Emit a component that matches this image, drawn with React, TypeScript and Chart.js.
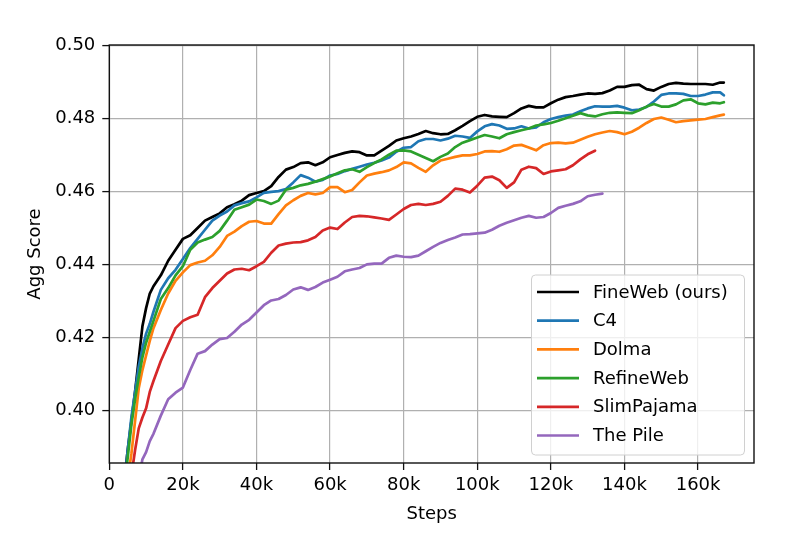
import React, { useEffect, useRef } from 'react';
import { Chart, registerables } from 'chart.js';
Chart.register(...registerables);

// Training steps, in thousands
const steps = [3, 4, 5, 6, 7, 8, 9, 10, 11, 12, 14, 16, 18, 20, 22, 24, 26, 28, 30, 32, 34, 36, 38, 40, 42, 44, 46, 48, 50, 52, 54, 56, 58, 60, 62, 64, 66, 68, 70, 72, 74, 76, 78, 80, 82, 84, 86, 88, 90, 92, 94, 96, 98, 100, 102, 104, 106, 108, 110, 112, 114, 116, 118, 120, 122, 124, 126, 128, 130, 132, 134, 136, 138, 140, 142, 144, 146, 148, 150, 152, 154, 156, 158, 160, 162, 164, 166, 167];

const fineweb = [0.370, 0.380, 0.389, 0.397, 0.405, 0.414, 0.423, 0.428, 0.432, 0.434, 0.437, 0.441, 0.444, 0.447, 0.448, 0.450, 0.452, 0.453, 0.454, 0.4557, 0.4565, 0.4575, 0.459, 0.4596, 0.4601, 0.4615, 0.464, 0.466, 0.4667, 0.4678, 0.468, 0.4672, 0.468, 0.4694, 0.470, 0.4706, 0.471, 0.4708, 0.4699, 0.4699, 0.4712, 0.4725, 0.474, 0.4746, 0.4751, 0.4758, 0.4766, 0.476, 0.4757, 0.4758, 0.4768, 0.478, 0.4793, 0.4805, 0.481, 0.4806, 0.4805, 0.4804, 0.4815, 0.4828, 0.4835, 0.4831, 0.4831, 0.4842, 0.4852, 0.4859, 0.4862, 0.4866, 0.4869, 0.4868, 0.487, 0.4877, 0.4887, 0.4887, 0.4892, 0.4893, 0.4881, 0.4877, 0.4887, 0.4895, 0.4898, 0.4896, 0.4895, 0.4895, 0.4895, 0.4893, 0.4899, 0.4899];

const c4 = [0.370, 0.379, 0.389, 0.398, 0.405, 0.412, 0.417, 0.421, 0.4237, 0.427, 0.433, 0.4362, 0.4385, 0.4415, 0.4445, 0.447, 0.4495, 0.452, 0.4534, 0.4545, 0.4562, 0.4568, 0.4573, 0.4584, 0.4596, 0.4599, 0.4601, 0.4607, 0.4625, 0.4645, 0.4638, 0.4627, 0.4632, 0.4644, 0.4648, 0.4656, 0.4662, 0.4668, 0.4674, 0.4679, 0.4685, 0.4693, 0.4709, 0.472, 0.4722, 0.4738, 0.4744, 0.4744, 0.474, 0.4745, 0.4753, 0.4751, 0.4747, 0.4765, 0.4779, 0.4785, 0.4781, 0.4772, 0.4773, 0.4779, 0.4773, 0.4776, 0.479, 0.4799, 0.4804, 0.4808, 0.4811, 0.482, 0.4828, 0.4834, 0.4833, 0.4833, 0.4835, 0.483, 0.4823, 0.4825, 0.4832, 0.4847, 0.4865, 0.4869, 0.4869, 0.4868, 0.4862, 0.4862, 0.4866, 0.4872, 0.4872, 0.4864];

const dolma = [0.360, 0.371, 0.381, 0.388, 0.397, 0.406, 0.411, 0.415, 0.419, 0.4225, 0.4275, 0.432, 0.4355, 0.4378, 0.4398, 0.4405, 0.441, 0.4425, 0.4448, 0.4478, 0.449, 0.4505, 0.4517, 0.4519, 0.4512, 0.4512, 0.4538, 0.4562, 0.4576, 0.4588, 0.4596, 0.4592, 0.4596, 0.4612, 0.4612, 0.4598, 0.4604, 0.4625, 0.4644, 0.4649, 0.4653, 0.4658, 0.4667, 0.468, 0.4677, 0.4665, 0.4654, 0.4672, 0.4685, 0.469, 0.4695, 0.4699, 0.4699, 0.4703, 0.471, 0.4711, 0.4709, 0.4716, 0.4726, 0.4728, 0.4721, 0.4713, 0.4727, 0.4733, 0.4734, 0.4732, 0.4734, 0.4742, 0.475, 0.4757, 0.4762, 0.4766, 0.4763, 0.4757, 0.4764, 0.4775, 0.4788, 0.4799, 0.4803, 0.4797, 0.479, 0.4793, 0.4795, 0.4797, 0.4799, 0.4804, 0.4809, 0.4811];

const refineweb = [0.368, 0.378, 0.387, 0.396, 0.403, 0.409, 0.4145, 0.4185, 0.4215, 0.4245, 0.4305, 0.4335, 0.437, 0.4395, 0.444, 0.446, 0.4468, 0.4475, 0.4492, 0.452, 0.455, 0.4557, 0.4564, 0.4578, 0.4574, 0.4566, 0.4575, 0.4605, 0.461, 0.4617, 0.4621, 0.4627, 0.4634, 0.4641, 0.465, 0.4658, 0.4661, 0.4654, 0.4667, 0.4678, 0.4688, 0.4701, 0.4712, 0.4713, 0.471, 0.4701, 0.4692, 0.4683, 0.4695, 0.4704, 0.4722, 0.4734, 0.4741, 0.4748, 0.4755, 0.4751, 0.4746, 0.4757, 0.4763, 0.4768, 0.4773, 0.4781, 0.4784, 0.4788, 0.4794, 0.4801, 0.4808, 0.4815, 0.4809, 0.4806, 0.4812, 0.4816, 0.4817, 0.4816, 0.4815, 0.4823, 0.4833, 0.484, 0.4833, 0.4833, 0.4839, 0.485, 0.4853, 0.4842, 0.4839, 0.4844, 0.4842, 0.4845];

const slimpajama = [0.355, 0.364, 0.373, 0.382, 0.389, 0.395, 0.398, 0.4005, 0.405, 0.408, 0.4135, 0.418, 0.4225, 0.4245, 0.4255, 0.4262, 0.431, 0.4335, 0.4355, 0.4375, 0.4386, 0.4388, 0.4384, 0.4395, 0.4407, 0.4432, 0.4452, 0.4457, 0.446, 0.4461, 0.4466, 0.4475, 0.4493, 0.4501, 0.4497, 0.4515, 0.453, 0.4533, 0.4532, 0.4529, 0.4526, 0.4522, 0.4537, 0.4552, 0.4563, 0.4566, 0.4563, 0.4566, 0.4572, 0.4588, 0.4608, 0.4605, 0.4597, 0.4616, 0.4638, 0.4641, 0.4631, 0.461, 0.4625, 0.466, 0.4668, 0.4664, 0.4648, 0.4655, 0.4658, 0.4661, 0.4672, 0.4688, 0.4702, 0.4712];

const thePile = [0.345, 0.352, 0.360, 0.368, 0.375, 0.381, 0.3865, 0.3885, 0.3915, 0.3935, 0.3985, 0.403, 0.4048, 0.4062, 0.411, 0.4155, 0.4162, 0.418, 0.4195, 0.4198, 0.4215, 0.4235, 0.4248, 0.4268, 0.4288, 0.4301, 0.4305, 0.4316, 0.4331, 0.4337, 0.433, 0.4338, 0.435, 0.4358, 0.4366, 0.4381, 0.4386, 0.439, 0.44, 0.4402, 0.4402, 0.4418, 0.4424, 0.4421, 0.442, 0.4424, 0.4436, 0.4448, 0.4459, 0.4467, 0.4474, 0.4482, 0.4483, 0.4485, 0.4487, 0.4495, 0.4506, 0.4514, 0.4521, 0.4528, 0.4533, 0.4528, 0.453, 0.4541, 0.4555, 0.4561, 0.4566, 0.4573, 0.4587, 0.4591, 0.4594];

const seriesNames = ['FineWeb (ours)', 'C4', 'Dolma', 'RefineWeb', 'SlimPajama', 'The Pile'];
const seriesColors = ['#000000', '#1f77b4', '#ff7f0e', '#2ca02c', '#d62728', '#9467bd'];
const xTicks = [0, 20, 40, 60, 80, 100, 120, 140, 160];
const yTicks = [0.40, 0.42, 0.44, 0.46, 0.48, 0.50];

const FONT = "'DejaVu Sans', sans-serif";
const LINE_W = 2.7;

const framePlugin = {
  id: 'frameAndLegend',
  afterDatasetsDraw(chart: any) {
    const { ctx, chartArea: a } = chart;
    ctx.save();
    ctx.strokeStyle = '#111';
    ctx.lineWidth = 1.4;
    ctx.strokeRect(a.left, a.top, a.right - a.left, a.bottom - a.top);

    // legend box
    const bx = 531.5, by = 275, bw = 213, bh = 180, r = 4;
    ctx.beginPath();
    ctx.moveTo(bx + r, by);
    ctx.lineTo(bx + bw - r, by);
    ctx.quadraticCurveTo(bx + bw, by, bx + bw, by + r);
    ctx.lineTo(bx + bw, by + bh - r);
    ctx.quadraticCurveTo(bx + bw, by + bh, bx + bw - r, by + bh);
    ctx.lineTo(bx + r, by + bh);
    ctx.quadraticCurveTo(bx, by + bh, bx, by + bh - r);
    ctx.lineTo(bx, by + r);
    ctx.quadraticCurveTo(bx, by, bx + r, by);
    ctx.closePath();
    ctx.fillStyle = 'rgba(255,255,255,0.8)';
    ctx.fill();
    ctx.strokeStyle = '#d0d0d0';
    ctx.lineWidth = 1;
    ctx.stroke();

    ctx.font = `18px ${FONT}`;
    ctx.textBaseline = 'middle';
    ctx.textAlign = 'left';
    seriesNames.forEach((name, i) => {
      const y = 292 + i * 28.7;
      ctx.strokeStyle = seriesColors[i];
      ctx.lineWidth = LINE_W;
      ctx.beginPath();
      ctx.moveTo(537, y);
      ctx.lineTo(579, y);
      ctx.stroke();
      ctx.fillStyle = '#000';
      ctx.fillText(name, 593, y + 1);
    });
    ctx.restore();
  },
};

export default function App() {
  const ref = useRef<HTMLCanvasElement>(null);
  useEffect(() => {
    if (!ref.current) return;
    Chart.defaults.font.family = FONT;
    Chart.defaults.font.size = 18;
    Chart.defaults.color = '#000';
    const all = [fineweb, c4, dolma, refineweb, slimpajama, thePile];
    const datasets = all.map((vals, i) => ({
      label: seriesNames[i],
      data: vals.map((v, j) => ({ x: steps[j] * 1000, y: v })),
      borderColor: seriesColors[i],
      backgroundColor: seriesColors[i],
      borderWidth: LINE_W,
      pointRadius: 0,
      tension: 0,
      fill: false,
      borderJoinStyle: 'round' as const,
      borderCapStyle: 'round' as const,
      order: all.length - i,
    }));
    const chart = new Chart(ref.current, {
      type: 'line',
      data: { datasets },
      options: {
        animation: false,
        responsive: false,
        devicePixelRatio: 1,
        layout: { padding: { top: 45, right: 47, left: 0, bottom: 0 } },
        plugins: { legend: { display: false }, tooltip: { enabled: false } },
        scales: {
          x: {
            type: 'linear',
            min: 0,
            max: 175200,
            afterBuildTicks: (s: any) => { s.ticks = xTicks.map((v) => ({ value: v * 1000 })); },
            afterFit: (s: any) => { s.height = 77; },
            ticks: {
              callback: (v: any) => (v === 0 ? '0' : `${Math.round(v / 1000)}k`),
              padding: 5,
              maxRotation: 0,
              autoSkip: false,
              color: '#000',
              font: { size: 18 },
            },
            grid: { color: '#b0b0b0', lineWidth: 1.2, tickLength: 7, tickColor: '#111', tickWidth: 1.3 },
            border: { display: false },
            title: { display: true, text: 'Steps', color: '#000', font: { size: 18 }, padding: { top: 0, bottom: 15 } },
          },
          y: {
            type: 'linear',
            min: 0.3855,
            max: 0.5002,
            afterBuildTicks: (s: any) => { s.ticks = yTicks.map((v) => ({ value: v })); },
            afterFit: (s: any) => { s.width = 109.3; },
            ticks: {
              callback: (v: any) => Number(v).toFixed(2),
              padding: 7,
              color: '#000',
              font: { size: 18 },
            },
            grid: { color: '#b0b0b0', lineWidth: 1.2, tickLength: 7, tickColor: '#111', tickWidth: 1.3 },
            border: { display: false },
            title: { display: true, text: 'Agg Score', color: '#000', font: { size: 18 }, padding: { top: 25, bottom: 0 } },
          },
        },
      },
      plugins: [framePlugin],
    });
    return () => chart.destroy();
  }, []);
  return (
    <div style={{ position: 'absolute', left: 0, top: 0, width: 801, height: 540, background: '#fff' }}>
      <canvas ref={ref} width={801} height={540} style={{ width: 801, height: 540 }} />
    </div>
  );
}
